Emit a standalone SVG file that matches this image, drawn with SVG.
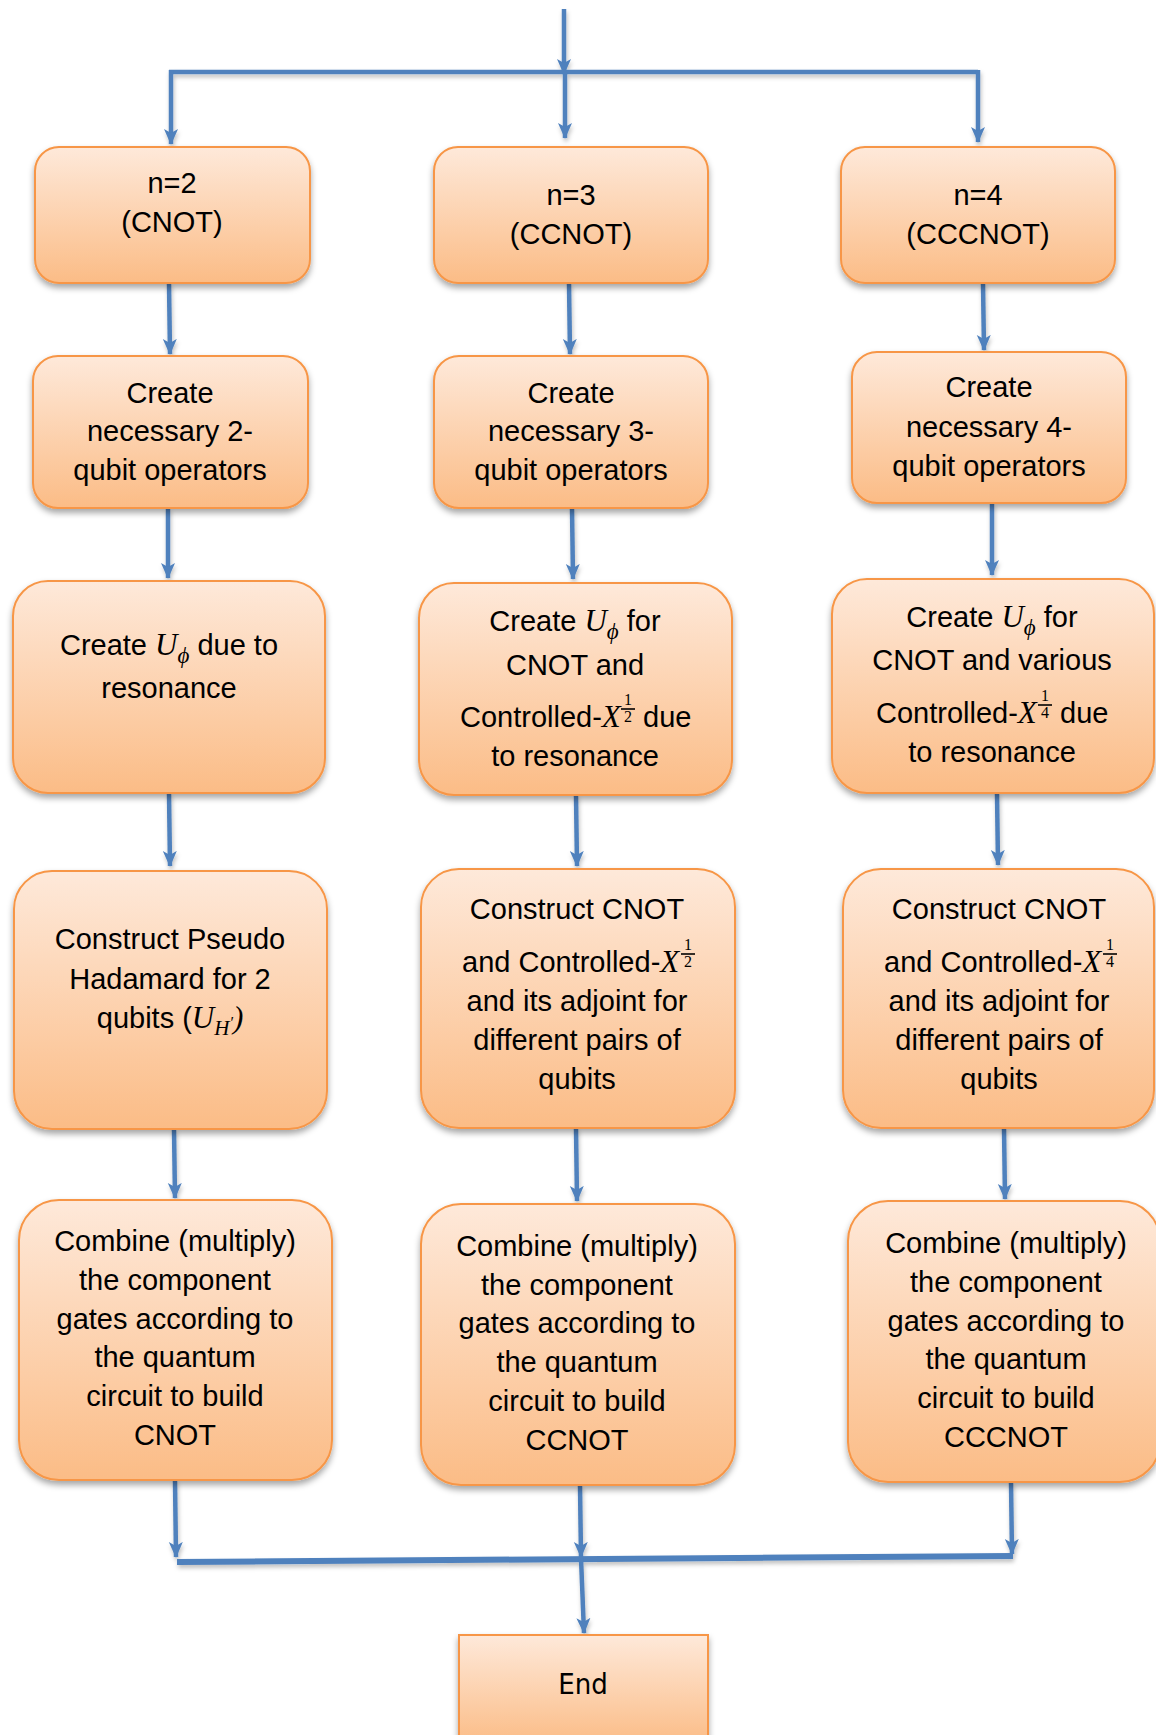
<svg xmlns="http://www.w3.org/2000/svg" width="1156" height="1735" viewBox="0 0 1156 1735">
<style>
.box{fill:url(#g);stroke:#F79646;stroke-width:2;filter:url(#sh)}
.t{font-family:"Liberation Sans",Arial,sans-serif;font-size:29px;fill:#000;text-anchor:middle}
.s{text-anchor:start}
.m{font-family:"Liberation Serif","DejaVu Serif",serif;font-style:italic}
.f{font-family:"Liberation Serif","DejaVu Serif",serif;font-size:16px;text-anchor:middle;fill:#000}
.bar{stroke:#000;stroke-width:1.6}
.c{stroke:#4F81BD;stroke-width:4.5;fill:none}
.a{marker-end:url(#ah)}
</style>
<defs>
<linearGradient id="g" x1="0" y1="0" x2="0" y2="1">
<stop offset="0" stop-color="#FEE9DA"/>
<stop offset="1" stop-color="#FBBC86"/>
</linearGradient>
<filter id="sh" x="-10%" y="-10%" width="120%" height="130%">
<feDropShadow dx="0" dy="4" stdDeviation="3" flood-color="#000" flood-opacity="0.35"/>
</filter>
<filter id="csh" x="-50%" y="-50%" width="200%" height="200%">
<feDropShadow dx="1" dy="3" stdDeviation="2" flood-color="#000" flood-opacity="0.25"/>
</filter>
<marker id="ah" markerUnits="userSpaceOnUse" markerWidth="16" markerHeight="18" viewBox="0 0 16 18" refX="15" refY="8" orient="auto">
<path d="M0,1 L16,8 L0,15 L4,8 Z" fill="#4F81BD"/>
</marker>
</defs>

<g id="connectors" filter="url(#csh)">
<line class="c a" x1="564" y1="9" x2="564" y2="74"/>
<polyline class="c" points="169,72 978,72"/>
<line class="c a" x1="171" y1="70" x2="171" y2="144"/>
<line class="c a" x1="565" y1="72" x2="565" y2="138"/>
<line class="c a" x1="978" y1="70" x2="978" y2="142"/>

<line class="c a" x1="169" y1="283" x2="170" y2="354"/>
<line class="c a" x1="569" y1="283" x2="570" y2="354"/>
<line class="c a" x1="983" y1="283" x2="984" y2="350"/>

<line class="c a" x1="168" y1="508" x2="168" y2="578"/>
<line class="c a" x1="572" y1="508" x2="573" y2="579"/>
<line class="c a" x1="992" y1="503" x2="992" y2="575"/>

<line class="c a" x1="169" y1="793" x2="170" y2="866"/>
<line class="c a" x1="576" y1="795" x2="577" y2="866"/>
<line class="c a" x1="997" y1="793" x2="998" y2="865"/>

<line class="c a" x1="174" y1="1129" x2="175" y2="1198"/>
<line class="c a" x1="576" y1="1128" x2="577" y2="1201"/>
<line class="c a" x1="1004" y1="1128" x2="1005" y2="1199"/>

<line class="c a" x1="175" y1="1480" x2="176" y2="1557"/>
<line class="c a" x1="580" y1="1485" x2="581" y2="1557"/>
<line class="c a" x1="1011" y1="1482" x2="1012" y2="1554"/>
<line class="c" x1="177" y1="1562" x2="1013" y2="1556" style="stroke-width:6"/>
<line class="c a" x1="581" y1="1558" x2="584" y2="1633"/>
</g>

<g id="n2">
<rect class="box" x="35" y="147" width="275" height="136" rx="24"/>
<text class="t" x="172" y="193">n=2</text>
<text class="t" x="172" y="232">(CNOT)</text>
</g>
<g id="n3">
<rect class="box" x="434" y="147" width="274" height="136" rx="24"/>
<text class="t" x="571" y="205">n=3</text>
<text class="t" x="571" y="244">(CCNOT)</text>
</g>
<g id="n4">
<rect class="box" x="841" y="147" width="274" height="136" rx="24"/>
<text class="t" x="978" y="205">n=4</text>
<text class="t" x="978" y="244">(CCCNOT)</text>
</g>

<g id="ops2">
<rect class="box" x="33" y="356" width="275" height="152" rx="25"/>
<text class="t" x="170" y="403">Create</text>
<text class="t" x="170" y="441">necessary 2-</text>
<text class="t" x="170" y="480">qubit operators</text>
</g>
<g id="ops3">
<rect class="box" x="434" y="356" width="274" height="152" rx="25"/>
<text class="t" x="571" y="403">Create</text>
<text class="t" x="571" y="441">necessary 3-</text>
<text class="t" x="571" y="480">qubit operators</text>
</g>
<g id="ops4">
<rect class="box" x="852" y="352" width="274" height="151" rx="25"/>
<text class="t" x="989" y="397">Create</text>
<text class="t" x="989" y="437">necessary 4-</text>
<text class="t" x="989" y="476">qubit operators</text>
</g>

<g id="uphi2">
<rect class="box" x="13" y="581" width="312" height="212" rx="35"/>
<text class="t" x="169" y="655">Create <tspan class="m" font-size="31">U</tspan><tspan class="m" font-size="23" dy="8">ϕ</tspan><tspan dy="-8"> due to</tspan></text>
<text class="t" x="169" y="698">resonance</text>
</g>
<g id="uphi3">
<rect class="box" x="419" y="583" width="313" height="212" rx="35"/>
<text class="t" x="575" y="631">Create <tspan class="m" font-size="31">U</tspan><tspan class="m" font-size="23" dy="8">ϕ</tspan><tspan dy="-8"> for</tspan></text>
<text class="t" x="575" y="675">CNOT and</text>
<text class="t s" x="460" y="727">Controlled-<tspan class="m" font-size="31">X</tspan></text>
<text class="f" x="628" y="705">1</text>
<line class="bar" x1="621" y1="709" x2="635" y2="709"/>
<text class="f" x="628" y="722">2</text>
<text class="t s" x="643" y="727">due</text>
<text class="t" x="575" y="766">to resonance</text>
</g>
<g id="uphi4">
<rect class="box" x="832" y="579" width="322" height="214" rx="35"/>
<text class="t" x="992" y="627">Create <tspan class="m" font-size="31">U</tspan><tspan class="m" font-size="23" dy="8">ϕ</tspan><tspan dy="-8"> for</tspan></text>
<text class="t" x="992" y="670">CNOT and various</text>
<text class="t s" x="876" y="723">Controlled-<tspan class="m" font-size="31">X</tspan></text>
<text class="f" x="1045" y="701">1</text>
<line class="bar" x1="1038" y1="705" x2="1052" y2="705"/>
<text class="f" x="1045" y="718">4</text>
<text class="t s" x="1060" y="723">due</text>
<text class="t" x="992" y="762">to resonance</text>
</g>

<g id="had2">
<rect class="box" x="14" y="871" width="313" height="258" rx="38"/>
<text class="t" x="170" y="949">Construct Pseudo</text>
<text class="t" x="170" y="989">Hadamard for 2</text>
<text class="t" x="170" y="1028">qubits (<tspan class="m" font-size="31">U</tspan><tspan class="m" font-size="21" dy="7">H</tspan><tspan class="m" font-size="16" dy="-7">′</tspan><tspan class="m" font-style="normal" font-size="31">)</tspan></text>
</g>
<g id="cons3">
<rect class="box" x="421" y="869" width="314" height="259" rx="38"/>
<text class="t" x="577" y="919">Construct CNOT</text>
<text class="t s" x="462" y="972">and Controlled-<tspan class="m" font-size="31">X</tspan></text>
<text class="f" x="688" y="950">1</text>
<line class="bar" x1="681" y1="954" x2="695" y2="954"/>
<text class="f" x="688" y="967">2</text>
<text class="t" x="577" y="1011">and its adjoint for</text>
<text class="t" x="577" y="1050">different pairs of</text>
<text class="t" x="577" y="1089">qubits</text>
</g>
<g id="cons4">
<rect class="box" x="843" y="869" width="311" height="259" rx="38"/>
<text class="t" x="999" y="919">Construct CNOT</text>
<text class="t s" x="884" y="972">and Controlled-<tspan class="m" font-size="31">X</tspan></text>
<text class="f" x="1110" y="950">1</text>
<line class="bar" x1="1103" y1="954" x2="1117" y2="954"/>
<text class="f" x="1110" y="967">4</text>
<text class="t" x="999" y="1011">and its adjoint for</text>
<text class="t" x="999" y="1050">different pairs of</text>
<text class="t" x="999" y="1089">qubits</text>
</g>

<g id="comb2">
<rect class="box" x="19" y="1200" width="313" height="280" rx="40"/>
<text class="t" x="175" y="1251">Combine (multiply)</text>
<text class="t" x="175" y="1290">the component</text>
<text class="t" x="175" y="1329">gates according to</text>
<text class="t" x="175" y="1367">the quantum</text>
<text class="t" x="175" y="1406">circuit to build</text>
<text class="t" x="175" y="1445">CNOT</text>
</g>
<g id="comb3">
<rect class="box" x="421" y="1204" width="314" height="281" rx="40"/>
<text class="t" x="577" y="1256">Combine (multiply)</text>
<text class="t" x="577" y="1295">the component</text>
<text class="t" x="577" y="1333">gates according to</text>
<text class="t" x="577" y="1372">the quantum</text>
<text class="t" x="577" y="1411">circuit to build</text>
<text class="t" x="577" y="1450">CCNOT</text>
</g>
<g id="comb4">
<rect class="box" x="848" y="1201" width="312" height="281" rx="40"/>
<text class="t" x="1006" y="1253">Combine (multiply)</text>
<text class="t" x="1006" y="1292">the component</text>
<text class="t" x="1006" y="1331">gates according to</text>
<text class="t" x="1006" y="1369">the quantum</text>
<text class="t" x="1006" y="1408">circuit to build</text>
<text class="t" x="1006" y="1447">CCCNOT</text>
</g>

<g id="end">
<rect class="box" x="459" y="1635" width="249" height="110"/>
<text class="t" x="583" y="1694" style="font-family:'DejaVu Sans Condensed','Liberation Sans Narrow','Liberation Sans',sans-serif;font-stretch:condensed">End</text>
</g>
</svg>
